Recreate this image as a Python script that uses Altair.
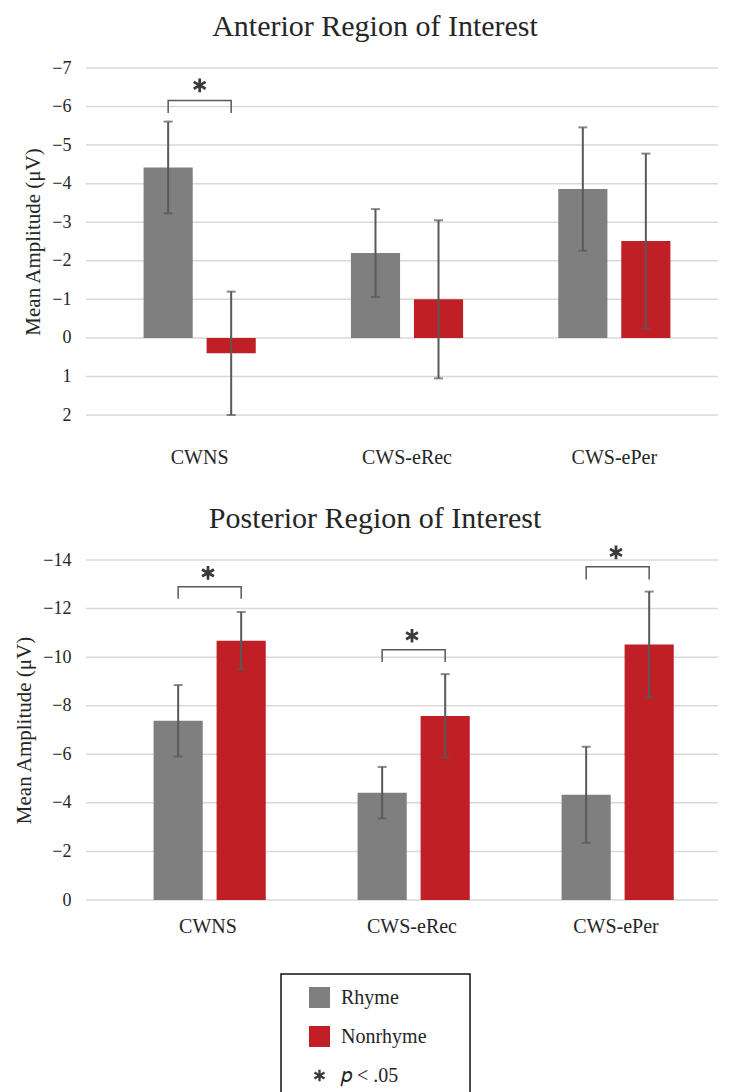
import altair as alt
import pandas as pd

categories = ["CWNS", "CWS-eRec", "CWS-ePer"]
conditions = ["Rhyme", "Nonrhyme"]
legend_keys = ["Rhyme", "Nonrhyme", "sig"]

# Anterior region (values in microvolts, axis reversed)
ant_rhyme_mean = [-4.42, -2.20, -3.86]
ant_rhyme_err = [1.19, 1.14, 1.60]
ant_nonrhyme_mean = [0.40, -1.00, -2.51]
ant_nonrhyme_err = [1.60, 2.05, 2.27]
ant_ticks = [-7, -6, -5, -4, -3, -2, -1, 0, 1, 2]

# Posterior region
post_rhyme_mean = [-7.38, -4.42, -4.33]
post_rhyme_err = [1.47, 1.06, 1.98]
post_nonrhyme_mean = [-10.68, -7.58, -10.52]
post_nonrhyme_err = [1.18, 1.72, 2.18]
post_ticks = [-14, -12, -10, -8, -6, -4, -2, 0]

# significance annotations
ant_sig = ["CWNS"]
ant_bracket_top = [-6.16]
ant_bracket_leg = [-5.83]
ant_star = [-6.55]

post_sig = ["CWNS", "CWS-eRec", "CWS-ePer"]
post_bracket_top = [-12.9, -10.3, -13.72]
post_bracket_leg = [-12.4, -9.8, -13.2]
post_star = [-13.47, -10.88, -14.31]

GRAY = "#7f7f7f"
RED = "#c01f26"
DARK = "#3a3a3a"
EB = "#595959"
GRID = "#d9d9d9"
FONT = "Liberation Serif"
ASTER = ("M-0.11,0.55L0.11,0.55L0.11,-0.55L-0.11,-0.55Z"
         "M0.4213,0.3703L0.5313,0.1797L-0.4213,-0.3703L-0.5313,-0.1797Z"
         "M-0.5313,0.1797L-0.4213,0.3703L0.5313,-0.1797L0.4213,-0.3703Z")

FILL = "\u2800"
LEGEND = alt.Legend(
    title=None, orient="none", legendX=195, legendY=906, direction="vertical",
    symbolSize=441, symbolStrokeWidth=0, symbolOffset=15, labelOffset=11,
    labelFont=FONT, labelFontSize=20, labelColor="#262626", rowPadding=18,
    padding=13, strokeColor="#111111",
    labelExpr="datum.label == 'sig' ? '\U0001D45D < .05' : datum.label == 'Nonrhyme' ? 'Nonrhyme" + FILL * 2 + "' : datum.label",
)


def panel(title, rm, re, nm, ne, sig, btop, bleg, star, ydom, yvals, width, height,
          lpad, toff, tdx, xo_pad, rmin, rmax):
    bars_df = pd.DataFrame({
        "cat": categories * 2,
        "cond": ["Rhyme"] * 3 + ["Nonrhyme"] * 3,
        "mean": rm + nm,
        "err": re + ne,
    })
    br_rows = []
    for i, c in enumerate(sig):
        pts = [("Rhyme", bleg[i]), ("Rhyme", btop[i]), ("Nonrhyme", btop[i]), ("Nonrhyme", bleg[i])]
        for j, (cd, v) in enumerate(pts):
            br_rows.append({"cat": c, "cond": cd, "v": v, "ord": j, "id": c})
    br_df = pd.DataFrame(br_rows)
    star_df = pd.DataFrame({"cat": sig, "key": ["sig"] * len(sig), "v": star})
    grid_df = pd.DataFrame({"g": yvals})

    x = alt.X("cat:N", sort=categories, title=None,
              scale=alt.Scale(domain=categories, paddingInner=0, paddingOuter=0,
                              rangeMin=rmin, rangeMax=rmax),
              axis=alt.Axis(domain=False, ticks=False, grid=False, labelAngle=0, labelFont=FONT,
                            labelFontSize=20, labelColor="#262626", labelPadding=lpad))
    xo = alt.XOffset("cond:N", sort=conditions,
                     scale=alt.Scale(domain=conditions, paddingInner=0.22, paddingOuter=xo_pad))
    yscale = alt.Scale(domain=ydom, reverse=True, nice=False, zero=False, padding=0)
    yaxis = alt.Axis(values=yvals, grid=False,
                     domain=False, ticks=False, labelFont=FONT, labelFontSize=18,
                     labelColor="#262626", labelPadding=15, titleFont=FONT,
                     titleFontSize=21, titleFontWeight="normal", titleColor="#262626",
                     titlePadding=8)
    ytitle = "Mean Amplitude (\u03bcV)"
    color = alt.Color("key:N", scale=alt.Scale(domain=legend_keys, range=[GRAY, RED, DARK]), legend=LEGEND)
    shape = alt.Shape("key:N", scale=alt.Scale(domain=legend_keys, range=["square", "square", ASTER]), legend=LEGEND)

    grid = alt.Chart(grid_df).mark_rule(color=GRID, strokeWidth=1.5).encode(
        y=alt.Y("g:Q", scale=yscale, axis=yaxis, title=ytitle))

    base = alt.Chart(bars_df).transform_calculate(
        key="datum.cond", lo="datum.mean - datum.err", hi="datum.mean + datum.err")

    bars = base.mark_bar().encode(
        x=x, xOffset=xo, y=alt.Y("mean:Q", scale=yscale, axis=yaxis, title=ytitle), color=color)
    whisk = base.mark_rule(color=EB, strokeWidth=2).encode(
        x=x, xOffset=xo, y=alt.Y("lo:Q", scale=yscale, axis=yaxis, title=ytitle), y2="hi:Q")
    caps = base.transform_fold(["lo", "hi"], as_=["end", "ev"]).mark_tick(
        orient="horizontal", size=9, thickness=2, color=EB).encode(
        x=x, xOffset=xo, y=alt.Y("ev:Q", scale=yscale, axis=yaxis, title=ytitle))
    brackets = alt.Chart(br_df).mark_line(color=EB, strokeWidth=1.5).encode(
        x=x, xOffset=xo, y=alt.Y("v:Q", scale=yscale, axis=yaxis, title=ytitle),
        detail="id:N", order="ord:Q")
    stars = alt.Chart(star_df).mark_point(filled=True, size=620, opacity=1, strokeWidth=0).encode(
        x=x, y=alt.Y("v:Q", scale=yscale, axis=yaxis, title=ytitle), color=color, shape=shape)

    return alt.layer(grid, bars, whisk, caps, brackets, stars).properties(
        width=width, height=height,
        title=alt.Title(title, font=FONT, fontSize=30, fontWeight="normal", color="#262626",
                        anchor="middle", frame="group", offset=toff, dx=tdx),
    )


top = panel("Anterior Region of Interest", ant_rhyme_mean, ant_rhyme_err,
            ant_nonrhyme_mean, ant_nonrhyme_err, ant_sig, ant_bracket_top, ant_bracket_leg,
            ant_star, [-7, 2], ant_ticks, 632, 347, 32, 17, -27,
            0.755, 10, 632)
bottom = panel("Posterior Region of Interest", post_rhyme_mean, post_rhyme_err,
               post_nonrhyme_mean, post_nonrhyme_err, post_sig, post_bracket_top,
               post_bracket_leg, post_star, [-14, 0], post_ticks, 632, 340,
               16, 12, -27, 0.755, 20, 632)

chart = alt.vconcat(top, bottom, spacing=36).properties(
    padding={"left": 5, "top": 4, "right": 0, "bottom": 0}
).configure_view(stroke=None).configure_legend(strokeWidth=1.5, labelFont=FONT).configure_axis(
    labelFont=FONT, titleFont=FONT)

chart.save("out.html", embed_options={"renderer": "svg", "actions": False})
